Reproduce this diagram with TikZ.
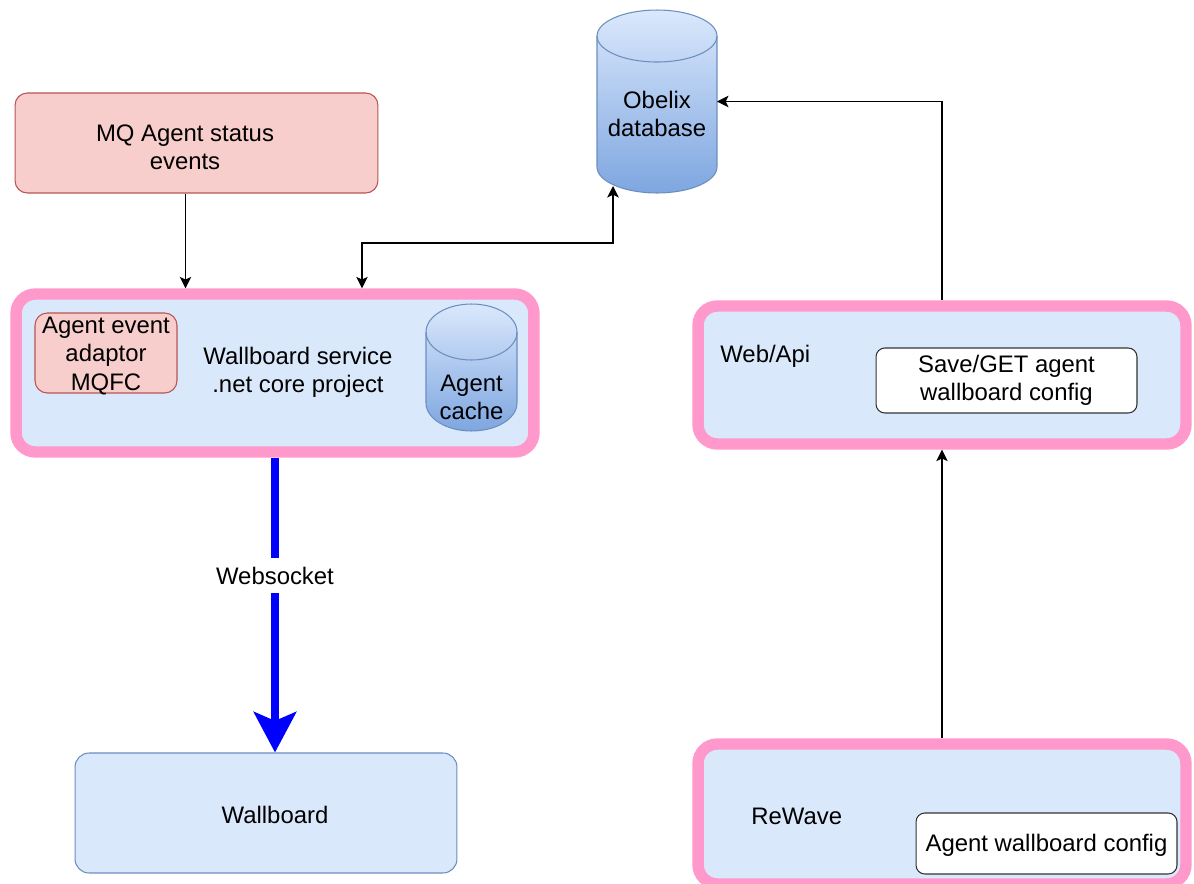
\documentclass[tikz,border=0pt]{standalone}
\usepackage{fontspec}
\setmainfont{Liberation Sans}
\usetikzlibrary{arrows.meta}

\definecolor{redfill}{HTML}{F8CECC}
\definecolor{redline}{HTML}{B85450}
\definecolor{bluefill}{HTML}{DAE8FC}
\definecolor{bluedark}{HTML}{7EA6E0}
\definecolor{blueline}{HTML}{6C8EBF}
\definecolor{pinkline}{HTML}{FF99CC}

\tikzset{
	txt/.style={font=\fontsize{13.6}{16}\selectfont, align=center, inner sep=0pt},
	redbox/.style={txt, draw=redline, fill=redfill, line width=0.6pt, rounded corners=7pt},
	bluebox/.style={txt, draw=blueline, fill=bluefill, line width=0.6pt, rounded corners=8pt},
	pinkbox/.style={draw=pinkline, fill=bluefill, line width=6.5pt, rounded corners=11pt},
	whitebox/.style={txt, draw=black!80, fill=white, line width=0.6pt, rounded corners=5pt},
	dbbox/.style={inner sep=0pt, outer sep=0pt},
	dbfill/.style={draw=blueline, line width=0.6pt, top color=bluefill, bottom color=bluedark},
	link/.style={->, line width=0.8pt, draw=black},
	socket/.style={-{Stealth[length=23pt,width=24pt,inset=5pt]}, line width=5pt, draw=blue}
}

% drum: node name, half width, half height of the end ellipse
\newcommand{\drum}[3]{%
	\shade[dbfill] ([yshift=-#3]#1.north west) -- ([yshift=#3]#1.south west)
		arc[start angle=180, end angle=360, x radius=#2, y radius=#3]
		-- ([yshift=-#3]#1.north east)
		arc[start angle=0, end angle=180, x radius=#2, y radius=#3] -- cycle;
	\draw[blueline, line width=0.6pt] ([yshift=-#3]#1.north west)
		arc[start angle=180, end angle=360, x radius=#2, y radius=#3];
}

\begin{document}
\begin{tikzpicture}[x=0.02cm, y=-0.02cm, >={Stealth[length=6.5pt,width=6.5pt,inset=1.5pt]}]
	\clip (0,0) rectangle (1194,883);
	\fill[white] (0,0) rectangle (1194,883);

	% left column
	\node[redbox, minimum width=7.26cm, minimum height=2cm](mq) at (196.5,143){};
	\node[txt](mqtext) at (185,147){MQ Agent status\\events};
	\node[pinkbox, minimum width=10.36cm, minimum height=3.16cm](svc) at (275,373){};
	\node[txt](svctext) at (298,372){Wallboard service\\.net core project};
	\node[redbox, minimum width=2.84cm, minimum height=1.6cm](adaptor) at (106,353){};
	\node[txt](adaptortext) at (106,356){Agent event\\adaptor\\MQFC};
	\node[dbbox, minimum width=1.82cm, minimum height=2.54cm](cache) at (471.5,367.5){};
	\drum{cache}{0.91cm}{0.56cm}
	\node[txt](cachetext) at (471.5,397){Agent\\cache};
	\node[bluebox, minimum width=7.64cm, minimum height=2.4cm](wall) at (266,813){};
	\node[txt](walltext) at (275,815){Wallboard};

	% database
	\node[dbbox, minimum width=2.4cm, minimum height=3.66cm](obelix) at (657,101.5){};
	\drum{obelix}{1.2cm}{0.52cm}
	\node[txt](obelixtext) at (657,114){Obelix\\database};
	\coordinate (obelixin) at (613,186);

	% right column
	\node[pinkbox, minimum width=9.76cm, minimum height=2.76cm](web) at (942,375){};
	\node[txt, anchor=west](webtext) at (720,356){Web/Api};
	\node[whitebox, minimum width=5.22cm, minimum height=1.3cm](save) at (1006.5,380.5){};
	\node[txt](savetext) at (1006.5,380){Save/GET agent\\wallboard config};
	\node[pinkbox, minimum width=9.76cm, minimum height=2.8cm](rewave) at (942,814){};
	\node[txt, anchor=west](rewavetext) at (751,816){ReWave};
	\node[whitebox, minimum width=5.22cm, minimum height=1.22cm](awc) at (1046.5,843.5){};
	\node[txt](awctext) at (1046.5,845){Agent wallboard config};

	% connectors
	\draw[link] ([xshift=-0.22cm]mq.south) -- ([xshift=-0.22cm]mq.south |- svc.north);
	\draw[link, <->] (362,0 |- svc.north) -- (362,243) -| (obelixin);
	\draw[link] (web.north) |- (obelix);
	\draw[link] (rewave.north) -- (web.south);
	\draw[socket] (svc.south) -- node[txt, fill=white, inner xsep=2pt, inner ysep=5pt, pos=0.4]{Websocket} (svc.south |- wall.north);
\end{tikzpicture}
\end{document}
